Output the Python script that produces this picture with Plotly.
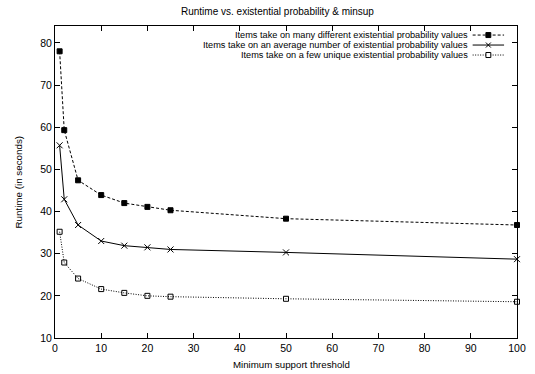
import plotly.graph_objects as go

minsup = [1, 2, 5, 10, 15, 20, 25, 50, 100]
many_values = [78.0, 59.3, 47.4, 43.9, 42.0, 41.1, 40.3, 38.3, 36.8]
average_values = [55.7, 42.9, 36.8, 33.0, 31.9, 31.5, 31.0, 30.3, 28.7]
few_values = [35.2, 27.9, 24.1, 21.6, 20.7, 20.0, 19.8, 19.3, 18.6]

series_names = [
    "Items take on many different existential probability values",
    "Items take on an average number of existential probability values",
    "Items take on a few unique existential probability values",
]
series_values = [many_values, average_values, few_values]
dashes = ["3px,2px", "solid", "1px,1.5px"]
symbols = ["square", "x-thin-open", "square-open"]
marker_sizes = [5, 6, 5]

FONT = "Liberation Sans, Arial, Helvetica, sans-serif"

fig = go.Figure()
for name, vals, dash, sym, ms in zip(series_names, series_values, dashes, symbols, marker_sizes):
    fig.add_trace(go.Scatter(
        x=minsup, y=vals, mode="lines+markers", name=name, showlegend=False,
        line=dict(color="black", width=1, dash=dash),
        marker=dict(symbol=sym, size=ms, color="black",
                    line=dict(color="black", width=1)),
        cliponaxis=False, hoverinfo="skip",
    ))

# custom gnuplot-style key (text right-aligned, sample on the right)
key_y = [0.971, 0.939, 0.907]
x_text = 0.898
x0, x1 = 0.904, 0.972
xm = (x0 + x1) / 2
shapes = []
annotations = []
dx = 2.5 / 471
dy = 2.5 / 312
for i, (name, dash) in enumerate(zip(series_names, dashes)):
    y = key_y[i]
    annotations.append(dict(x=x_text, y=y, xref="paper", yref="paper", text=name,
                            showarrow=False, xanchor="right", yanchor="middle",
                            font=dict(family=FONT, size=9.2, color="black")))
    shapes.append(dict(type="line", xref="paper", yref="paper", x0=x0, x1=x1, y0=y, y1=y,
                       line=dict(color="black", width=1, dash=dash)))
    if i == 0:
        shapes.append(dict(type="rect", xref="paper", yref="paper", x0=xm - dx, x1=xm + dx,
                           y0=y - dy, y1=y + dy, fillcolor="black", line=dict(color="black", width=1)))
    elif i == 1:
        shapes.append(dict(type="line", xref="paper", yref="paper", x0=xm - dx, x1=xm + dx,
                           y0=y - dy, y1=y + dy, line=dict(color="black", width=1)))
        shapes.append(dict(type="line", xref="paper", yref="paper", x0=xm - dx, x1=xm + dx,
                           y0=y + dy, y1=y - dy, line=dict(color="black", width=1)))
    else:
        shapes.append(dict(type="rect", xref="paper", yref="paper", x0=xm - dx, x1=xm + dx,
                           y0=y - dy, y1=y + dy, fillcolor="white", line=dict(color="black", width=1)))

# title
annotations.append(dict(x=0.482, y=1, xref="paper", yref="paper", yshift=15,
                        text="Runtime vs. existential probability & minsup", showarrow=False,
                        xanchor="center", yanchor="middle",
                        font=dict(family=FONT, size=10, color="black")))
# axis titles
annotations.append(dict(x=0.511, y=0, xref="paper", yref="paper", yshift=-26,
                        text="Minimum support threshold", showarrow=False,
                        xanchor="center", yanchor="middle",
                        font=dict(family=FONT, size=9.7, color="black")))
annotations.append(dict(x=0, y=0.5, xref="paper", yref="paper", xshift=-37.5,
                        text="Runtime (in seconds)", showarrow=False, textangle=-90,
                        xanchor="center", yanchor="middle",
                        font=dict(family=FONT, size=9.8, color="black")))

axis_common = dict(showline=True, linecolor="black", linewidth=1, mirror="allticks",
                   ticks="inside", ticklen=5, tickcolor="black", tickwidth=1,
                   showgrid=False, zeroline=False, ticklabeloverflow="allow",
                   tickfont=dict(family=FONT, size=10.5, color="black"))

fig.update_layout(
    width=535, height=374,
    margin=dict(l=55, r=9, t=26, b=36),
    paper_bgcolor="white", plot_bgcolor="white",
    font=dict(family=FONT, size=10, color="black"),
    xaxis=dict(range=[0, 100], dtick=10, **axis_common),
    yaxis=dict(range=[10, 84], tick0=10, dtick=10, **axis_common),
    shapes=shapes, annotations=annotations,
    hovermode=False,
)

# remove the browser's default 8px body margin so the figure sits at the page origin
fig.write_html("out.html",
               config={"displayModeBar": False, "staticPlot": True},
               post_script="document.body.style.margin='0';document.body.style.overflow='hidden';")
